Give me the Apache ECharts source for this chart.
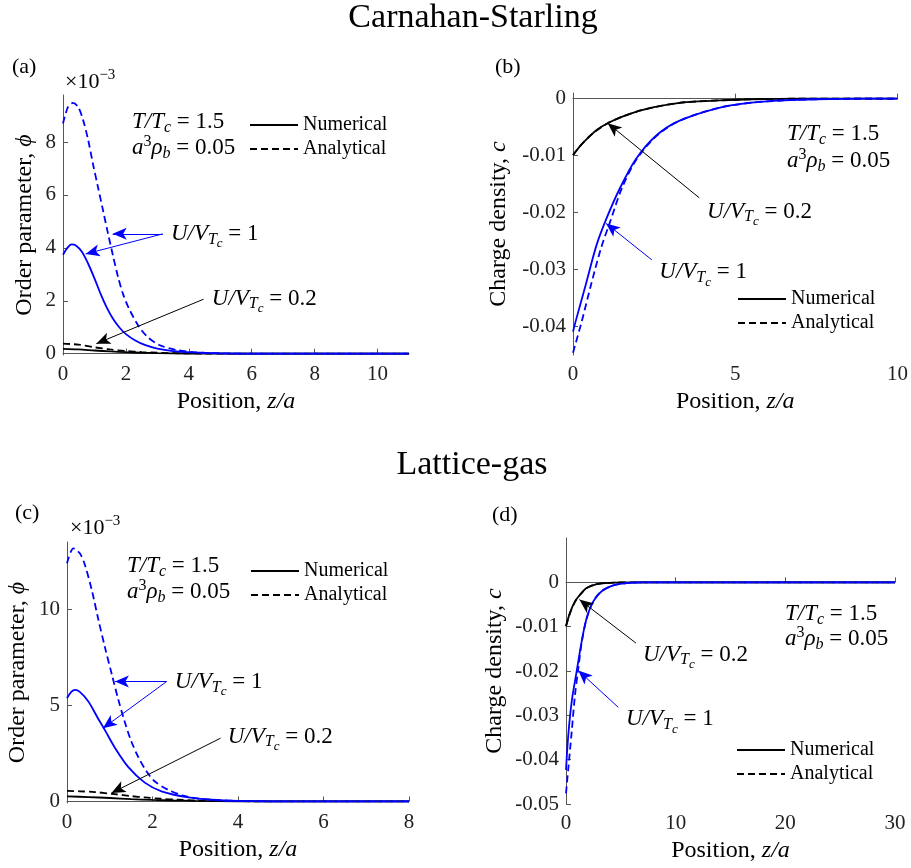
<!DOCTYPE html>
<html>
<head>
<meta charset="utf-8">
<title>Carnahan-Starling / Lattice-gas profiles</title>
<script src="https://cdn.jsdelivr.net/npm/echarts@6/dist/echarts.min.js"></script>
<style>
  html, body { margin: 0; padding: 0; background: #fff; }
  #main { width: 911px; height: 868px; }
</style>
</head>
<body>
<div id="main"></div>
<script>
// ---- data ----
// (a) Carnahan-Starling, order parameter phi (in units of 1e-3) vs z/a
const csPhiNum02 = [[0, 0.18], [0.5, 0.16], [1, 0.12], [1.5, 0.085], [2, 0.055], [2.5, 0.035], [3, 0.02], [4, 0.007], [5, 0.002], [6, 0], [11, 0]]
const csPhiAna02 = [[0, 0.38], [0.5, 0.34], [1, 0.24], [1.5, 0.16], [2, 0.1], [2.5, 0.06], [3, 0.035], [4, 0.01], [5, 0.003], [6, 0], [11, 0]]
const csPhiNum1 = [[0, 3.74], [0.14, 4.0], [0.27, 4.13], [0.42, 4.08], [0.6, 3.85], [0.8, 3.4], [1.0, 2.85], [1.2, 2.25], [1.4, 1.72], [1.6, 1.3], [1.8, 0.98], [2.0, 0.74], [2.3, 0.5], [2.6, 0.33], [3.0, 0.19], [3.5, 0.1], [4.1, 0.05], [5, 0.015], [6, 0.004], [8, 0], [11, 0]]
const csPhiAna1 = [[0, 8.7], [0.16, 9.33], [0.32, 9.48], [0.48, 9.33], [0.64, 8.83], [0.8, 8.08], [0.95, 7.19], [1.11, 6.31], [1.27, 5.43], [1.43, 4.55], [1.59, 3.7], [1.75, 2.9], [1.91, 2.25], [2.1, 1.7], [2.4, 1.05], [2.7, 0.62], [3.08, 0.32], [3.6, 0.14], [4.14, 0.06], [5, 0.015], [6, 0.003], [8, 0], [11, 0]]

// (b) Carnahan-Starling, charge density c vs z/a
const csRhoNum02 = [[0, -0.0099], [0.25, -0.0081], [0.51, -0.0066], [0.75, -0.0054], [1.07, -0.0043], [1.5, -0.0032], [1.94, -0.0023], [2.5, -0.0015], [2.97, -0.001], [3.5, -0.0006], [4.5, -0.0003], [5.5, -0.0001], [7, 0], [10, 0]]
const csRhoAna02 = [[0, -0.0099], [0.25, -0.0081], [0.51, -0.0066], [0.75, -0.0055], [1.07, -0.0043], [1.5, -0.0032], [1.94, -0.0023], [2.5, -0.0015], [2.97, -0.001], [3.5, -0.0006], [4.5, -0.0003], [5.5, -0.0001], [7, 0], [10, 0]]
const csRhoNum1 = [[0, -0.0409], [0.1, -0.0387], [0.41, -0.0323], [0.72, -0.0258], [1.02, -0.0212], [1.43, -0.0159], [1.94, -0.0106], [2.56, -0.0065], [3.27, -0.0039], [4.5, -0.0016], [5.5, -0.0007], [6.5, -0.0003], [7.5, -0.0001], [9, 0], [10, 0]]
const csRhoAna1 = [[0, -0.0446], [0.26, -0.0393], [0.55, -0.0328], [0.85, -0.0265], [1.15, -0.0215], [1.5, -0.0158], [1.94, -0.0108], [2.56, -0.0066], [3.27, -0.0039], [4.5, -0.0016], [5.5, -0.0007], [6.5, -0.0003], [7.5, -0.0001], [9, 0], [10, 0]]

// (c) Lattice-gas, order parameter phi (in units of 1e-3) vs z/a
const lgPhiNum02 = [[0, 0.26], [0.5, 0.23], [1, 0.18], [1.5, 0.12], [2, 0.08], [2.5, 0.05], [3, 0.03], [4, 0.01], [5, 0.002], [6, 0], [8, 0]]
const lgPhiAna02 = [[0, 0.55], [0.3, 0.53], [0.65, 0.49], [1.12, 0.38], [1.5, 0.28], [1.82, 0.21], [2.2, 0.14], [2.6, 0.09], [3, 0.05], [4, 0.015], [5, 0.003], [6, 0], [8, 0]]
const lgPhiNum1 = [[0, 5.37], [0.1, 5.7], [0.19, 5.81], [0.3, 5.7], [0.5, 5.2], [0.73, 4.3], [0.89, 3.7], [1.12, 2.8], [1.43, 1.8], [1.82, 0.98], [2.21, 0.53], [2.84, 0.21], [3.38, 0.09], [4, 0.03], [5, 0.005], [6, 0], [8, 0]]
const lgPhiAna1 = [[0, 12.39], [0.15, 13.17], [0.3, 12.91], [0.42, 12.3], [0.58, 11.0], [0.73, 9.5], [0.89, 8.0], [1.05, 6.6], [1.2, 5.3], [1.35, 4.15], [1.5, 3.15], [1.67, 2.3], [1.85, 1.6], [2.05, 1.05], [2.37, 0.6], [2.7, 0.32], [3.0, 0.17], [3.5, 0.07], [4, 0.03], [5, 0.005], [6, 0], [8, 0]]

// (d) Lattice-gas, charge density c vs z/a
const lgRhoNum02 = [[0, -0.0099], [0.36, -0.0069], [0.82, -0.0043], [1.28, -0.0028], [1.88, -0.0013], [2.8, -0.0004], [4, -0.0001], [6, 0], [30, 0]]
const lgRhoAna02 = [[0, -0.0099], [0.36, -0.007], [0.82, -0.0044], [1.28, -0.0028], [1.88, -0.0013], [2.8, -0.0004], [4, -0.0001], [6, 0], [30, 0]]
const lgRhoNum1 = [[0, -0.0423], [0.21, -0.0344], [0.52, -0.0269], [0.97, -0.0201], [1.43, -0.0133], [1.88, -0.0081], [2.49, -0.0043], [3.25, -0.002], [4.32, -0.0007], [5.53, -0.0002], [7, 0], [30, 0]]
const lgRhoAna1 = [[0, -0.0476], [0.21, -0.042], [0.52, -0.0337], [0.82, -0.0254], [1.12, -0.0195], [1.43, -0.0136], [1.88, -0.0082], [2.49, -0.0043], [3.25, -0.002], [4.32, -0.0007], [5.53, -0.0002], [7, 0], [30, 0]]

// tick labels
const xTicksA = [0, 2, 4, 6, 8, 10]
const yTicksA = [0, 2, 4, 6, 8]
const xTicksB = [0, 5, 10]
const yTicksB = [0, -0.01, -0.02, -0.03, -0.04]
const xTicksC = [0, 2, 4, 6, 8]
const yTicksC = [0, 5, 10]
const xTicksD = [0, 10, 20, 30]
const yTicksD = [0, -0.01, -0.02, -0.03, -0.04, -0.05]

// ---- style ----
const FONT = "'Liberation Serif', 'Times New Roman', serif"
const BLUE = '#0000ff'
const BLACK = '#000000'
const AXIS = '#555555'
const NAME_SIZE = 24
const TICK_SIZE = 21
const MATH_SIZE = 23

const chart = echarts.init(document.getElementById('main'))

// rich styles for the little LaTeX-ish labels
function mathRich (color, size) {
  const base = { fontFamily: FONT, fontSize: size, color: color, lineHeight: Math.round(size * 1.45) }
  return {
    n: base,
    i: Object.assign({}, base, { fontStyle: 'italic' }),
    s: { fontFamily: FONT, fontSize: Math.round(size * 0.7), color: color, fontStyle: 'italic', padding: [Math.round(size * 0.48), 0, 0, 0] },
    ss: { fontFamily: FONT, fontSize: Math.round(size * 0.55), color: color, fontStyle: 'italic', padding: [Math.round(size * 0.85), 0, 0, 0] },
    sup: { fontFamily: FONT, fontSize: Math.round(size * 0.7), color: color, padding: [0, 0, Math.round(size * 0.57), 0] }
  }
}

function fmtTick (v) {
  return v === 0 ? '0' : String(+v.toFixed(2))
}

// grids in pixels (a, b, c, d)
const grids = [
  { left: 63, top: 95, width: 346, height: 260 },
  { left: 573, top: 93, width: 326, height: 262 },
  { left: 67, top: 542, width: 342, height: 261 },
  { left: 566, top: 538, width: 329, height: 266 }
]

const nameStyle = {
  fontFamily: FONT, fontSize: NAME_SIZE, color: '#000',
  rich: { i: { fontFamily: FONT, fontSize: NAME_SIZE, fontStyle: 'italic', color: '#000' } }
}

function xAxisFor (i, max, ticks) {
  return {
    type: 'value', gridIndex: i, min: 0, max: max,
    name: 'Position, {i|z/a}', nameLocation: 'middle', nameGap: 35,
    nameTextStyle: nameStyle,
    axisLine: { show: true, lineStyle: { color: AXIS, width: 1 } },
    axisTick: { show: true, inside: true, length: 5, lineStyle: { color: AXIS }, customValues: ticks },
    axisLabel: { fontFamily: FONT, fontSize: TICK_SIZE, color: '#222', margin: 9, customValues: ticks, formatter: fmtTick },
    splitLine: { show: false }
  }
}

function yAxisFor (i, min, max, ticks, name, gap) {
  return {
    type: 'value', gridIndex: i, min: min, max: max,
    name: name, nameLocation: 'middle', nameGap: gap, nameRotate: 90,
    nameTextStyle: nameStyle,
    axisLine: { show: true, lineStyle: { color: AXIS, width: 1 } },
    axisTick: { show: true, inside: true, length: 5, lineStyle: { color: AXIS }, customValues: ticks },
    axisLabel: { fontFamily: FONT, fontSize: TICK_SIZE, color: '#222', margin: 7, customValues: ticks, formatter: fmtTick },
    splitLine: { show: false }
  }
}

function arrowLines (color, pairs) {
  return {
    silent: true,
    symbol: ['none', 'arrow'],
    symbolSize: [9, 14],
    lineStyle: { color: color, width: 1, type: 'solid' },
    label: { show: false },
    emphasis: { disabled: true },
    data: pairs.map(p => [{ coord: p[0] }, { coord: p[1] }])
  }
}

function curve (name, data, i, color, dashed, arrows) {
  const s = {
    name: name,
    type: 'line',
    xAxisIndex: i,
    yAxisIndex: i,
    data: data,
    smooth: 0.3,
    symbol: 'none',
    showSymbol: false,
    color: color,
    lineStyle: { color: color, width: 1.8, type: dashed ? [7, 4] : 'solid' },
    z: color === BLUE ? 3 : 2
  }
  if (arrows) s.markLine = arrowLines(color, arrows)
  return s
}

// arrows (tail -> head) in data coordinates of each panel
const arrowsA_blue = [[[3.17, 4.53], [1.58, 4.53]], [[3.17, 4.53], [0.72, 3.77]]]
const arrowsA_black = [[[4.47, 2.06], [1.06, 0.38]]]
const arrowsB_blue = [[[2.43, -0.0283], [1.02, -0.0219]]]
const arrowsB_black = [[[3.89, -0.0174], [1.07, -0.0043]]]
const arrowsC_blue = [[[2.33, 6.24], [1.12, 6.24]], [[2.33, 6.24], [0.84, 3.81]]]
const arrowsC_black = [[[3.59, 3.29], [1.04, 0.44]]]
const arrowsD_blue = [[[4.77, -0.0282], [1.12, -0.0199]]]
const arrowsD_black = [[[6.38, -0.0137], [1.22, -0.0039]]]

const series = [
  curve('Numerical', csPhiNum02, 0, BLACK, false, arrowsA_black),
  curve('Analytical', csPhiAna02, 0, BLACK, true),
  curve('U1 num', csPhiNum1, 0, BLUE, false, arrowsA_blue),
  curve('U1 ana', csPhiAna1, 0, BLUE, true),

  curve('Numerical', csRhoNum02, 1, BLACK, false, arrowsB_black),
  curve('Analytical', csRhoAna02, 1, BLACK, true),
  curve('U1 num', csRhoNum1, 1, BLUE, false, arrowsB_blue),
  curve('U1 ana', csRhoAna1, 1, BLUE, true),

  curve('Numerical', lgPhiNum02, 2, BLACK, false, arrowsC_black),
  curve('Analytical', lgPhiAna02, 2, BLACK, true),
  curve('U1 num', lgPhiNum1, 2, BLUE, false, arrowsC_blue),
  curve('U1 ana', lgPhiAna1, 2, BLUE, true),

  curve('Numerical', lgRhoNum02, 3, BLACK, false, arrowsD_black),
  curve('Analytical', lgRhoAna02, 3, BLACK, true),
  curve('U1 num', lgRhoNum1, 3, BLUE, false, arrowsD_blue),
  curve('U1 ana', lgRhoAna1, 3, BLUE, true)
]

function legendAt (left, top) {
  return {
    left: left, top: top, orient: 'vertical', padding: 0,
    data: ['Numerical', 'Analytical'],
    itemWidth: 48, itemHeight: 10, itemGap: 2,
    selectedMode: false,
    itemStyle: { opacity: 0 }, // line only, no marker
    textStyle: { fontFamily: FONT, fontSize: 20, color: '#000', lineHeight: 22 }
  }
}

const option = {
  animation: false,
  backgroundColor: '#fff',
  grid: grids,
  xAxis: [xAxisFor(0, 11, xTicksA), xAxisFor(1, 10, xTicksB), xAxisFor(2, 8, xTicksC), xAxisFor(3, 30, xTicksD)],
  yAxis: [
    yAxisFor(0, -0.05, 9.78, yTicksA, 'Order parameter, {i|ϕ}', 26),
    yAxisFor(1, -0.045, 0.001, yTicksB, 'Charge density, {i|c}', 62),
    yAxisFor(2, -0.08, 13.5, yTicksC, 'Order parameter, {i|ϕ}', 37),
    yAxisFor(3, -0.05, 0.01, yTicksD, 'Charge density, {i|c}', 59)
  ],
  legend: [legendAt(249, 114), legendAt(737, 288), legendAt(250, 560), legendAt(736, 739)],
  series: series
}

chart.setOption(option)

// ---- text ----
const TU1 = '{i|U/V}{s|T}{ss|c}{n| = 1}'
const TU02 = '{i|U/V}{s|T}{ss|c}{n| = 0.2}'
const TTc = '{i|T/T}{s|c}{n| = 1.5}'
const TRho = '{i|a}{sup|3}{i|ρ}{s|b}{n| = 0.05}'

// annotation labels anchored in data coordinates (left-middle of the text)
const labels = [
  { grid: 0, at: [3.43, 4.53], text: TU1, color: BLUE },
  { grid: 0, at: [4.73, 2.08], text: TU02, color: BLACK },
  { grid: 1, at: [4.13, -0.0198], text: TU02, color: BLACK },
  { grid: 1, at: [2.66, -0.0305], text: TU1, color: BLUE },
  { grid: 2, at: [2.52, 6.22], text: TU1, color: BLUE },
  { grid: 2, at: [3.76, 3.37], text: TU02, color: BLACK },
  { grid: 3, at: [7.02, -0.0163], text: TU02, color: BLACK },
  { grid: 3, at: [5.47, -0.0309], text: TU1, color: BLUE }
]

function textEl (x, y, text, rich, extra) {
  return {
    type: 'text', x: x, y: y, silent: true,
    style: Object.assign({ text: text, rich: rich, align: 'left', verticalAlign: 'middle' }, extra || {})
  }
}

const graphics = []
labels.forEach(l => {
  const p = chart.convertToPixel({ gridIndex: l.grid }, l.at)
  graphics.push(textEl(p[0], p[1], l.text, mathRich(l.color, MATH_SIZE)))
})

// parameter boxes
;[[132, 122, 148], [787, 134, 161], [127, 566, 592], [785, 614, 639]].forEach(b => {
  graphics.push(textEl(b[0], b[1], TTc, mathRich(BLACK, MATH_SIZE)))
  graphics.push(textEl(b[0], b[2], TRho, mathRich(BLACK, MATH_SIZE)))
})

// exponent labels
graphics.push(textEl(65, 82, '{n|×10}{sup|−3}', mathRich(BLACK, 22)))
graphics.push(textEl(70, 528, '{n|×10}{sup|−3}', mathRich(BLACK, 22)))

// panel letters
const letterStyle = { fontFamily: FONT, fontSize: 22, fill: '#000' }
graphics.push(textEl(12, 67, '(a)', null, letterStyle))
graphics.push(textEl(495, 67, '(b)', null, letterStyle))
graphics.push(textEl(15, 513, '(c)', null, letterStyle))
graphics.push(textEl(492, 515, '(d)', null, letterStyle))

// section titles
const titleStyle = { fontFamily: FONT, fontSize: 34, fill: '#000', align: 'center' }
graphics.push(textEl(473, 18, 'Carnahan-Starling', null, titleStyle))
graphics.push(textEl(472, 465, 'Lattice-gas', null, titleStyle))

chart.setOption({ graphic: graphics })
</script>
</body>
</html>
